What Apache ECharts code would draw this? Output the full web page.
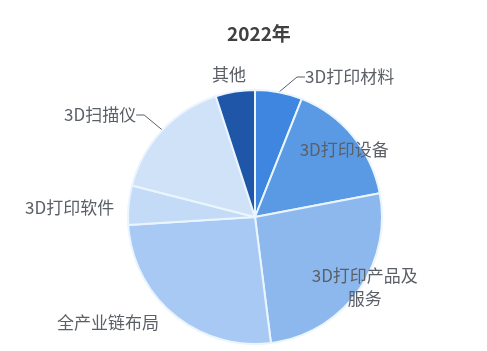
<!DOCTYPE html>
<html>
<head>
<meta charset="utf-8">
<script src="https://cdn.jsdelivr.net/npm/echarts@6/dist/echarts.min.js"></script>
<style>
  html, body { margin: 0; padding: 0; background: #ffffff; }
  #chart { width: 487px; height: 351px; }
</style>
</head>
<body>
<div id="chart"></div>
<script>
// 2022年 3D打印产业结构（占比，%）
const categories = ['3D打印材料', '3D打印设备', '3D打印产品及\n服务', '全产业链布局', '3D打印软件', '3D扫描仪', '其他'];
const shares = [6, 16, 26, 26, 5, 16, 5];
const sliceColors = ['#3f86e0', '#5a9ae4', '#8db8ee', '#a8c9f4', '#c4dbf7', '#cfe2f8', '#1f56a8'];

// label placement: inside the slice or outside, with or without a leader line
const labelInside = [false, true, true, false, false, false, false];
const labelLineOn = [true, false, false, false, false, true, false];
const insideOffset = { 1: [38, -25], 2: [56, 31] };
// outside label anchors (left edge, vertical middle) in pixels
const labelAnchor = {
  0: { x: 305, y: 77 },
  3: { x: 57, y: 323 },
  4: { x: 25, y: 208 },
  5: { x: 64, y: 115 },
  6: { x: 212, y: 75 }
};

const labelColor = '#5b5f66';
const chart = echarts.init(document.getElementById('chart'), null, { renderer: 'canvas' });

const data = categories.map((name, i) => ({
  name: name,
  value: shares[i],
  itemStyle: { color: sliceColors[i] },
  label: labelInside[i]
    ? { position: 'inside', fontSize: 17, color: labelColor, lineHeight: 23, offset: insideOffset[i] }
    : { position: 'outside', fontSize: 17, color: labelColor },
  labelLine: { show: labelLineOn[i], length: 6, length2: 8, smooth: false, lineStyle: { color: labelColor, width: 1 } }
}));

chart.setOption({
  animation: false,
  title: {
    text: '2022年',
    left: 222,
    top: 19,
    textStyle: { fontSize: 19, fontWeight: 'bold', color: '#404040', fontFamily: 'Noto Sans CJK SC' }
  },
  textStyle: { fontFamily: 'Noto Sans CJK SC' },
  series: [{
    type: 'pie',
    center: [255, 217],
    radius: ['0%', 127],
    startAngle: 90,
    clockwise: true,
    data: data,
    itemStyle: { borderColor: '#eaf5ff', borderWidth: 2 },
    label: { show: true, formatter: '{b}' },
    labelLayout: function (params) {
      const a = labelAnchor[params.dataIndex];
      if (!a) return {};
      return { x: a.x, y: a.y, align: 'left', verticalAlign: 'middle' };
    }
  }]
});
</script>
</body>
</html>
